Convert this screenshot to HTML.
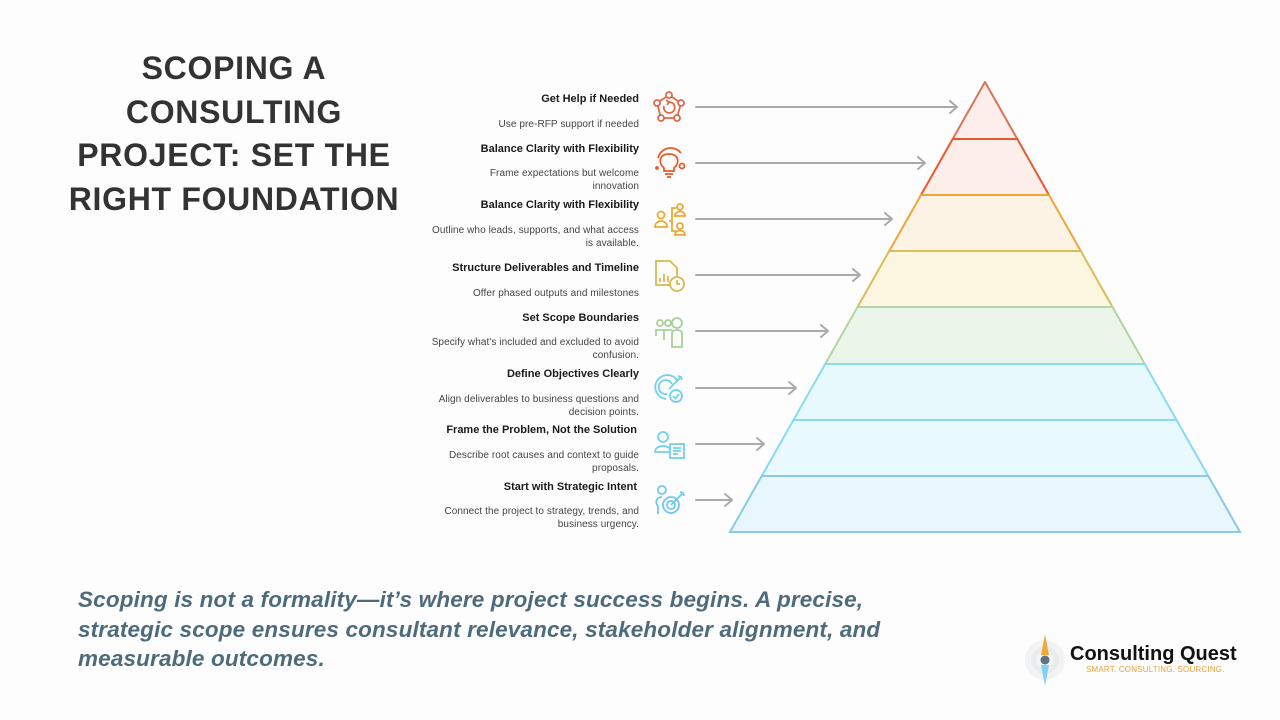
<!DOCTYPE html>
<html><head><meta charset="utf-8">
<style>
html,body{margin:0;padding:0;}
body{width:1280px;height:720px;background:#fdfdfd;position:relative;overflow:hidden;font-family:"Liberation Sans",Arial,sans-serif;}
.title{position:absolute;left:34px;width:400px;top:47px;text-align:center;font-weight:bold;font-size:32px;line-height:43.5px;letter-spacing:0.7px;color:#333;}
.t{position:absolute;right:641px;white-space:nowrap;font-weight:bold;font-size:11px;line-height:14px;color:#1a1a1a;text-align:right;}
.d{position:absolute;right:641px;white-space:nowrap;font-size:10px;line-height:13px;color:#444;text-align:right;letter-spacing:0.08px;}
.bottom{position:absolute;left:78px;top:585px;font-size:22.5px;line-height:29.5px;font-style:italic;font-weight:bold;color:#4e6b7b;white-space:nowrap;letter-spacing:0.15px;}
.logo1{position:absolute;left:1070px;top:642px;font-size:20px;font-weight:bold;color:#111;line-height:24px;white-space:nowrap;}
.logo2{position:absolute;left:1086px;top:665px;font-size:8px;color:#e8a33a;line-height:10px;white-space:nowrap;letter-spacing:0.2px;}
svg{position:absolute;left:0;top:0;}
</style></head><body>
<svg width="1280" height="720" viewBox="0 0 1280 720">
  <polygon points="985,82 1017.3,139 952.7,139" fill="#fdeeec" stroke="#d9735a" stroke-width="2" stroke-linejoin="round"/>
  <polygon points="952.7,139 1017.3,139 1049,195 921,195" fill="#fdeeea" stroke="#e55a2e" stroke-width="2"/>
  <polygon points="921,195 1049,195 1080.8,251 889.2,251" fill="#fdf3e4" stroke="#f2a43a" stroke-width="2"/>
  <polygon points="889.2,251 1080.8,251 1112.5,307 857.5,307" fill="#fdf6e1" stroke="#dcbc58" stroke-width="2"/>
  <polygon points="857.5,307 1112.5,307 1144.8,364 825.2,364" fill="#ecf5e9" stroke="#b4d4a4" stroke-width="2"/>
  <polygon points="825.2,364 1144.8,364 1176.5,420 793.5,420" fill="#e8f9fd" stroke="#88dcf0" stroke-width="2"/>
  <polygon points="793.5,420 1176.5,420 1208.3,476 761.7,476" fill="#e8f9ff" stroke="#88d8f8" stroke-width="2"/>
  <polygon points="761.7,476 1208.3,476 1240,532 730,532" fill="#e8f6fe" stroke="#8cc8e8" stroke-width="2"/>
  <g stroke="#aaaaaa" stroke-width="2" fill="none" stroke-linecap="round" stroke-linejoin="round">
    <path d="M696 107 H957 M950 101 L957 107 L950 113"/>
    <path d="M696 163 H925 M918 157 L925 163 L918 169"/>
    <path d="M696 219 H892 M885 213 L892 219 L885 225"/>
    <path d="M696 275 H860 M853 269 L860 275 L853 281"/>
    <path d="M696 331 H828 M821 325 L828 331 L821 337"/>
    <path d="M696 388 H796 M789 382 L796 388 L789 394"/>
    <path d="M696 444 H764 M757 438 L764 444 L757 450"/>
    <path d="M696 500 H732 M725 494 L732 500 L725 506"/>
  </g>
  <g stroke="#df6a4a" stroke-width="1.8" fill="none">
    <path d="M669 95 L681 103 L677 118 L661 118 L657 103 Z"/>
    <circle cx="669" cy="95" r="3" fill="#fdfdfd"/>
    <circle cx="681" cy="103" r="3" fill="#fdfdfd"/>
    <circle cx="677" cy="118" r="3" fill="#fdfdfd"/>
    <circle cx="661" cy="118" r="3" fill="#fdfdfd"/>
    <circle cx="657" cy="103" r="3" fill="#fdfdfd"/>
    <path d="M664 106 A5.5 5.5 0 1 0 669 102 M666 100 L669 102 L667 105"/>
  </g>
  <g stroke="#e85a2a" stroke-width="1.8" fill="none">
    <path d="M664 168 C658 163 659 154 669 154 C679 154 680 163 674 168 L674 171 L664 171 Z"/>
    <path d="M665 174 H673 M667 177 H671"/>
    <path d="M658 158 A13 13 0 0 1 680 152"/>
    <path d="M678 150 L681 153"/>
    <circle cx="682" cy="166" r="2.5"/>
    <circle cx="657" cy="168" r="1" fill="#e85a2a"/>
  </g>
  <g stroke="#f0a830" stroke-width="1.8" fill="none">
    <circle cx="661" cy="215" r="3.5"/>
    <path d="M655 227 C655 219 667 219 667 227 Z"/>
    <path d="M669 221 H672 M676 208 H672 V231 H676"/>
    <circle cx="680" cy="207" r="3"/>
    <path d="M675 216 C675 210 685 210 685 216 Z"/>
    <circle cx="680" cy="226" r="3"/>
    <path d="M675 235 C675 229 685 229 685 235 Z"/>
  </g>
  <g stroke="#d8b850" stroke-width="1.8" fill="none">
    <path d="M675 285 H656 V261 H670 L677 268 V276"/>
    <path d="M660 282 V278 M664 282 V274 M668 282 V276"/>
    <circle cx="677" cy="284" r="7" fill="#fdfdfd"/>
    <path d="M677 280 V284 H680"/>
  </g>
  <g stroke="#a8d098" stroke-width="1.8" fill="none">
    <circle cx="660" cy="323" r="3"/>
    <circle cx="668" cy="323" r="3"/>
    <circle cx="677" cy="323" r="5"/>
    <path d="M656 336 V330 H664 M672 347 V333 C672 329 682 329 682 333 V347 Z"/>
    <path d="M664 340 V330 H672"/>
  </g>
  <g stroke="#70d0ec" stroke-width="1.8" fill="none">
    <path d="M666 399 A12 12 0 1 1 677 380"/>
    <path d="M667 394 A7 7 0 1 1 672 384"/>
    <path d="M669 389 L680 378 M678 376 L681 377 L682 380"/>
    <circle cx="676" cy="396" r="6" fill="#fdfdfd"/>
    <path d="M673 396 L675.5 398.5 L679 394"/>
  </g>
  <g stroke="#70d0f0" stroke-width="1.8" fill="none">
    <circle cx="663" cy="437" r="5"/>
    <path d="M655 452 C655 444 671 444 671 452 Z"/>
    <rect x="670" y="444" width="14" height="14" fill="#fdfdfd"/>
    <path d="M673 448 H681 M673 451 H681 M673 454 H678"/>
  </g>
  <g stroke="#70c8ec" stroke-width="1.8" fill="none">
    <circle cx="662" cy="490" r="4"/>
    <path d="M658 514 V506 C655 503 656 497 662 497"/>
    <circle cx="671" cy="505" r="8"/>
    <circle cx="671" cy="505" r="4"/>
    <path d="M671 505 L682 494 M680 492 L683 493 L684 496"/>
  </g>
  <circle cx="1045" cy="660" r="20" fill="#f2f3f4"/>
  <circle cx="1045" cy="660" r="14" fill="#e9ebed"/>
  <circle cx="1045" cy="660" r="9" fill="#f2f3f4"/>
  <polygon points="1045,634 1049,655 1041,655" fill="#f0a838"/>
  <polygon points="1041,665 1049,665 1045,686" fill="#7fd2f6"/>
  <circle cx="1045" cy="660" r="4.5" fill="#5f7382"/>
</svg>

<div class="title">SCOPING A<br>CONSULTING<br>PROJECT: SET THE<br>RIGHT FOUNDATION</div>

<div class="t" style="top:92px">Get Help if Needed</div>
<div class="d" style="top:118px">Use pre-RFP support if needed</div>

<div class="t" style="top:142px">Balance Clarity with Flexibility</div>
<div class="d" style="top:167px">Frame expectations but welcome<br>innovation</div>

<div class="t" style="top:198px">Balance Clarity with Flexibility</div>
<div class="d" style="top:224px">Outline who leads, supports, and what access<br>is available.</div>

<div class="t" style="top:261px">Structure Deliverables and Timeline</div>
<div class="d" style="top:287px">Offer phased outputs and milestones</div>

<div class="t" style="top:311px">Set Scope Boundaries</div>
<div class="d" style="top:336px">Specify what's included and excluded to avoid<br>confusion.</div>

<div class="t" style="top:367px">Define Objectives Clearly</div>
<div class="d" style="top:393px">Align deliverables to business questions and<br>decision points.</div>

<div class="t" style="top:423px;right:643px">Frame the Problem, Not the Solution</div>
<div class="d" style="top:449px">Describe root causes and context to guide<br>proposals.</div>

<div class="t" style="top:480px;right:643px">Start with Strategic Intent</div>
<div class="d" style="top:505px">Connect the project to strategy, trends, and<br>business urgency.</div>

<div class="bottom">Scoping is not a formality—it’s where project success begins. A precise,<br>strategic scope ensures consultant relevance, stakeholder alignment, and<br>measurable outcomes.</div>

<div class="logo1">Consulting Quest</div>
<div class="logo2">SMART. CONSULTING. SOURCING.</div>
</body></html>
